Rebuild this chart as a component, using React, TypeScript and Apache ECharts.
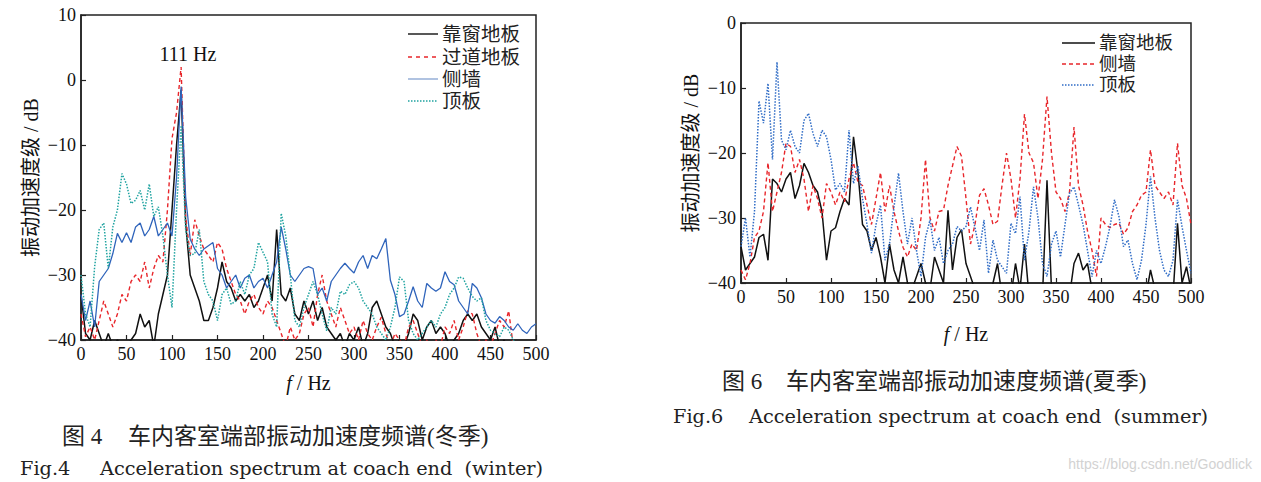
import React, { useEffect, useRef } from "react";
import * as echarts from "echarts";

// Frequency grid (Hz), 5 Hz resolution
const FREQ: number[] = Array.from({ length: 101 }, (_, i) => i * 5);

// ---- Fig.4 winter ----
const winterWindowFloor = [
  -33, -39, -40, -37, -39, -41, -39, -41, -40, -41,
  -41, -40, -39, -36, -38, -37, -41, -36, -33, -30,
  -20, -10, -1.5, -22, -30, -32, -34, -37, -37, -35,
  -32, -28, -31, -32, -34, -33, -34, -33, -35, -34,
  -32, -30, -34, -23, -33, -34, -32, -36, -37, -34,
  -36, -34, -37, -35, -38, -39, -40, -39, -41, -39,
  -40, -38, -41, -39, -35, -34, -36, -38, -39, -41,
  -40, -41, -39, -36, -37, -40, -38, -37, -39, -38,
  -39, -41, -40, -39, -37, -36, -37, -36, -38, -39,
  -40, -38, -41, -40, -42, -41, -42, -42, -42, -42,
  -42,
];
const winterAisleFloor = [
  -36, -39.5, -38, -40, -37, -34, -36, -38, -36, -33,
  -34, -31, -30, -31, -28, -32, -29, -27, -28, -20,
  -9, -5, 2, -21, -27, -21.5, -24, -26, -27, -28,
  -25, -26, -29, -31, -33, -34, -36, -34, -33, -35,
  -36, -34, -35, -37, -39, -41, -38, -40, -39, -36,
  -35, -38, -33, -30, -34, -36, -38, -35, -37, -39,
  -38, -40, -37, -39, -40, -38, -36.5, -39, -41, -39,
  -40, -41, -38, -37, -39, -41, -40, -42, -40, -41,
  -38, -39, -37, -40, -38, -35.5, -36, -39, -41, -40,
  -41, -39, -37, -38, -35.5, -41, null, null, null, null,
  null,
];
const winterSideWall = [
  -33, -37, -34, -38, -31, -30, -29, -26.7, -23.6, -25,
  -23.5, -25, -22.6, -22, -24, -23, -21, -24, -23, -22,
  -24, -15, -1, -18, -24.5, -26, -27, -26, -25.5, -25,
  -29, -30, -32, -31, -30, -32, -30.5, -30, -32, -31,
  -30.5, -32, -30, -28, -22.6, -26, -30, -31, -30, -29,
  -28.7, -29, -33, -32, -34, -31, -30, -29, -28.2, -29,
  -29.7, -28, -27, -29, -27, -27.5, -26, -24.4, -30.8, -33,
  -36.4, -36, -34, -31.8, -34, -35, -31.3, -32, -32.5, -32,
  -29.5, -31, -31.5, -34, -35, -36, -31.3, -32, -33.5, -36,
  -37, -37.4, -36.4, -37, -38, -38.5, -37.5, -38.5, -39, -38,
  -37.5,
];
const winterRoof = [
  -30, -36, -38, -28.7, -23, -22, -29, -22.6, -20, -14.4,
  -16, -19, -18.5, -17, -20, -16, -21, -19.5, -24, -30,
  -35, -20, -7, -23, -27, -26.7, -23, -31, -33, -34,
  -37, -33, -32, -34.5, -34, -31, -33, -30, -29, -25,
  -26.5, -28, -36, -38, -20.5, -24, -30, -37, -38, -35,
  -33, -31, -33, -36, -38.6, -35, -36, -32.5, -33, -31.5,
  -31, -32, -34, -35, -36, -38, -39, -40, -38, -35,
  -30.3, -31, -37, -39, -40, -39, -38, -37, -38, -36,
  -35, -33, -32, -30.3, -30.5, -32, -33.3, -34, -33.5, -37,
  -38.5, -39, -39.5, -38, -38.5, -40, -41, -42, -42, -42,
  -42,
];

// ---- Fig.6 summer ----
const summerWindowFloor = [
  -34.4, -38, -37, -36, -33, -32.5, -36.5, -24, -24.7, -26,
  -24, -23, -27, -25, -21.6, -23, -25, -26, -29, -36.5,
  -32, -31.5, -29, -27, -28, -17.5, -23, -31, -32, -35,
  -33, -36, -40, -34, -38, -40, -36, -40, -41, -39,
  -37, -40, -41, -36, -38, -40, -28.8, -38, -33, -31.8,
  -37, -39, -41, -42, -41, -42, -40, -37, -42, -41,
  -42, -37, -41, -34, -42, -42, -41, -42, -24.2, -41,
  -42, -42, -41, -42, -37, -35.4, -38, -37, -41, -42,
  -42, -42, -42, -42, -42, -42, -42, -42, -42, -42,
  -42, -38, -41, -42, -42, -42, -42, -30.8, -40, -37.5,
  -41,
];
const summerSideWall = [
  -38, -39.5, -37, -33, -32, -29, -21.5, -29, -26, -23,
  -18.5, -19, -23, -21, -24, -29, -25, -27, -30, -24.7,
  -26, -28, -26, -27.5, -24, -21.5, -24.5, -25, -28, -31,
  -27, -23, -29, -25, -29, -32, -34.5, -36, -34, -35,
  -30, -21, -30, -32, -29, -28.8, -25, -22, -19, -20.5,
  -27, -34, -31, -26.5, -25.5, -28, -31, -30.5, -25, -20,
  -24, -30, -24, -14, -20, -21.5, -27, -21, -11.3, -20,
  -26, -27, -29, -26, -16, -25, -28, -32, -35, -39,
  -30, -31, -31.5, -31, -30.8, -32.5, -31.5, -29, -28, -26.5,
  -26, -19.5, -25, -26, -27, -26, -28, -18.5, -25, -27,
  -31,
];
const summerRoof = [
  -34.4, -30, -36, -29, -12, -15.4, -9.3, -21, -6, -18,
  -19.5, -16.5, -19, -20, -15, -13.9, -17, -19, -16.5, -17.5,
  -21, -25.7, -24.7, -26, -16.5, -24.7, -22, -27, -31, -35.4,
  -31, -28, -36.5, -34, -28.3, -23.1, -29, -34, -30, -35,
  -39, -33, -30.3, -35, -33, -37, -35, -34, -31.3, -32,
  -31.3, -28.3, -31.5, -35, -30.3, -38.5, -33.4, -36.5, -37.5, -38.5,
  -30.8, -32.4, -26.7, -36.5, -32, -25.2, -30, -37, -39, -34,
  -32, -36, -31, -26.2, -25.2, -28, -31, -35, -39, -35,
  -37, -34.4, -31.3, -27.2, -29.8, -34.4, -33.4, -37, -39.5, -36.5,
  -31, -23.6, -30, -35, -38, -39, -36.5, -27.2, -31.3, -35,
  -38.5,
];

const WINTER_NAMES = ["靠窗地板", "过道地板", "侧墙", "顶板"];
const SUMMER_NAMES = ["靠窗地板", "侧墙", "顶板"];
const PEAK_LABEL = "111 Hz";

const BLACK = "#111111";
const RED = "#e8262b";
const BLUE = "#2f64bb";
const TEAL = "#1fa3a0";
const BLUE_DOT = "#2f6cc6";

const SERIF = '"Liberation Serif", "Times New Roman", "Noto Sans CJK SC", serif';
const EN = '"DejaVu Serif", serif';

function minusFmt(v: number) {
  return v < 0 ? "\u2212" + Math.abs(v) : String(v);
}

export default function App() {
  const ref = useRef<HTMLDivElement>(null);
  useEffect(() => {
    const chart = echarts.init(ref.current!, null, { renderer: "svg" });
    const pairs = (arr: (number | null)[]) => FREQ.map((f, i) => [f, arr[i]]);

    const xAxisCfg = (gi: number, gap: number) => ({
      gridIndex: gi,
      type: "value",
      min: 0,
      max: 500,
      interval: 50,
      name: "{i|f} / Hz",
      nameLocation: "middle",
      nameGap: gap,
      nameTextStyle: {
        fontFamily: SERIF,
        fontSize: 20,
        color: "#111",
        rich: { i: { fontStyle: "italic", fontFamily: SERIF, fontSize: 20, color: "#111" } },
      },
      axisLine: { show: true, onZero: false, lineStyle: { color: "#222", width: 1.5 } },
      axisTick: { show: true, inside: true, length: 5, lineStyle: { color: "#222", width: 1.2 } },
      axisLabel: { color: "#111", fontSize: 18, fontFamily: SERIF, margin: 5 },
      splitLine: { show: false },
    });
    const yAxisCfg = (gi: number, max: number) => ({
      gridIndex: gi,
      type: "value",
      min: -40,
      max,
      interval: 10,
      name: "振动加速度级 / dB",
      nameLocation: "middle",
      nameGap: 40,
      nameRotate: 90,
      nameTextStyle: { fontFamily: SERIF, fontSize: 20, color: "#111" },
      axisLine: { show: true, onZero: false, lineStyle: { color: "#222", width: 1.5 } },
      axisTick: { show: true, inside: true, length: 5, lineStyle: { color: "#222", width: 1.2 } },
      axisLabel: { color: "#111", fontSize: 18, fontFamily: SERIF, margin: 5, formatter: minusFmt },
      splitLine: { show: false },
    });

    const line = (name: string, data: (number | null)[], gi: number, color: string, type: any, width = 1.3) => ({
      name,
      type: "line",
      xAxisIndex: gi,
      yAxisIndex: gi,
      data: pairs(data),
      showSymbol: false,
      symbol: "none",
      clip: true,
      connectNulls: false,
      lineStyle: { color, width, type },
      itemStyle: { color },
    });

    const legendItems = (names: string[], styles: { color: string; dash: any }[], x1: number, x2: number, tx: number, ys: number[], fs: number) => {
      const els: any[] = [];
      names.forEach((n, i) => {
        els.push({
          type: "line",
          shape: { x1, y1: ys[i], x2, y2: ys[i] },
          style: { stroke: styles[i].color, lineWidth: 1.4, lineDash: styles[i].dash },
        });
        els.push({
          type: "text",
          x: tx,
          y: ys[i],
          style: { text: n, font: `${fs}px ${SERIF}`, fill: "#222", textAlign: "left", textVerticalAlign: "middle" },
        });
      });
      return els;
    };

    const txt = (text: string, x: number, y: number, font: string, align = "left", fill = "#222") => ({
      type: "text",
      x,
      y,
      style: { text, font, fill, textAlign: align, textVerticalAlign: "middle" },
    });

    chart.setOption({
      animation: false,
      backgroundColor: "#fff",
      grid: [
        { left: 81, top: 15, width: 455, height: 325, show: true, borderColor: "#222", borderWidth: 1.5, backgroundColor: "transparent" },
        { left: 741, top: 23, width: 450, height: 260, show: true, borderColor: "#222", borderWidth: 1.5, backgroundColor: "transparent" },
      ],
      xAxis: [xAxisCfg(0, 33), xAxisCfg(1, 41)],
      yAxis: [yAxisCfg(0, 10), yAxisCfg(1, 0)],
      series: [
        line(WINTER_NAMES[0], winterWindowFloor, 0, BLACK, "solid", 1.5),
        line(WINTER_NAMES[1], winterAisleFloor, 0, RED, [4, 3], 1.4),
        line(WINTER_NAMES[2], winterSideWall, 0, BLUE, "solid", 1.3),
        line(WINTER_NAMES[3], winterRoof, 0, TEAL, [1.5, 1.5], 1.5),
        line(SUMMER_NAMES[0], summerWindowFloor, 1, BLACK, "solid", 1.5),
        line(SUMMER_NAMES[1], summerSideWall, 1, RED, [4, 3], 1.4),
        line(SUMMER_NAMES[2], summerRoof, 1, BLUE_DOT, [1.5, 1.5], 1.5),
      ],
      graphic: [
        ...legendItems(
          WINTER_NAMES,
          [
            { color: BLACK, dash: null },
            { color: RED, dash: [4, 4] },
            { color: "#8eaad4", dash: null },
            { color: TEAL, dash: [1.5, 1.5] },
          ],
          408, 438, 442, [34, 57, 79, 101], 19.5
        ),
        ...legendItems(
          SUMMER_NAMES,
          [
            { color: BLACK, dash: null },
            { color: RED, dash: [4, 3] },
            { color: BLUE_DOT, dash: [1.5, 1.5] },
          ],
          1062, 1095, 1099, [43, 64, 85], 18.5
        ),
        txt(PEAK_LABEL, 188, 54, `20px ${SERIF}`, "center", "#111"),
        txt("图 4", 62, 436, `23px ${SERIF}`),
        txt("车内客室端部振动加速度频谱(冬季)", 128, 436, `23px ${SERIF}`),
        txt("Fig.4", 20, 468, `19.3px ${EN}`),
        txt("Acceleration spectrum at coach end  (winter)", 100, 468, `19.3px ${EN}`),
        txt("图 6", 722, 381, `23px ${SERIF}`),
        txt("车内客室端部振动加速度频谱(夏季)", 786, 381, `23px ${SERIF}`),
        txt("Fig.6", 673, 416, `19.3px ${EN}`),
        txt("Acceleration spectrum at coach end  (summer)", 749, 416, `19.3px ${EN}`),
        txt("https://blog.csdn.net/Goodlick", 1252, 464, `14px "Liberation Sans", sans-serif`, "right", "#d2d2d2"),
      ],
    });
    return () => chart.dispose();
  }, []);
  return (
    <div
      ref={ref}
      style={{ position: "fixed", left: 0, top: 0, width: 1261, height: 482, background: "#fff" }}
    />
  );
}
